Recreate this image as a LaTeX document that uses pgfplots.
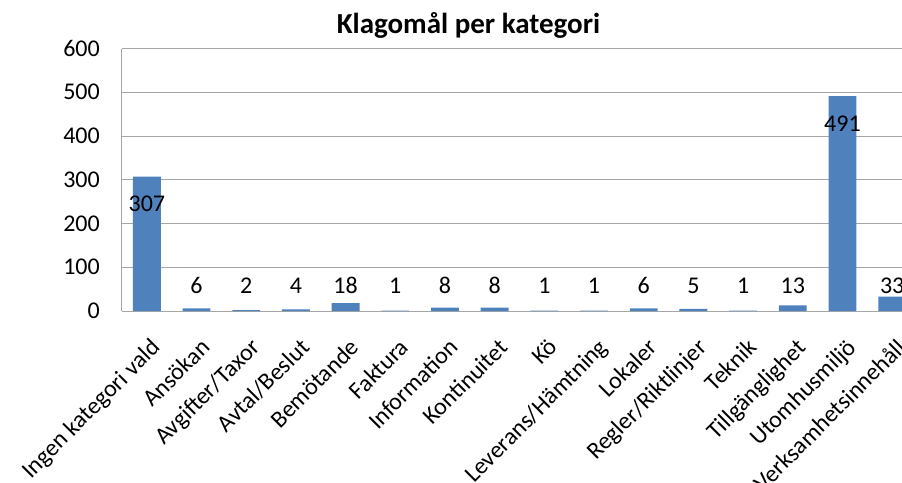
\documentclass[border=0pt]{standalone}
\usepackage{pgfplots}
\pgfplotsset{compat=1.18}
\usepackage{fontspec}
\setmainfont{Carlito}
\definecolor{barblue}{HTML}{4F81BD}
\definecolor{gridgray}{HTML}{A6A6A6}
\begin{document}
\begin{tikzpicture}
\useasboundingbox (-122bp,-172bp) rectangle (780bp,311bp);
\clip (-122bp,-172bp) rectangle (780bp,311bp);
\begin{axis}[
  at={(0,0)}, anchor=south west,
  scale only axis, width=795bp, height=262.5bp,
  xmin=-0.5, xmax=15.5, ymin=0, ymax=600,
  ytick={0,100,...,600},
  xtick={0,...,15},
  xticklabels={Ingen kategori vald, Ansökan, Avgifter/Taxor, Avtal/Beslut, Bemötande, Faktura, Information, Kontinuitet, Kö, Leverans/Hämtning, Lokaler, Regler/Riktlinjer, Teknik, Tillgänglighet, Utomhusmiljö, Verksamhetsinnehåll},
  axis x line*=bottom, axis y line*=left,
  ymajorgrids, grid style={gridgray, line width=1bp},
  axis line style={gridgray, line width=1bp},
  major tick length=0pt,
  tick label style={font=\fontsize{24bp}{28bp}\selectfont, text=black},
  yticklabel style={inner sep=0pt, xshift=-22bp},
  xticklabel style={inner sep=0pt, xshift=3bp, yshift=-26bp, rotate=45, anchor=north east},
  /pgf/number format/assume math mode=true,
  ybar, bar width=0.56,
  nodes near coords,
  visualization depends on={rawy \as \ry},
  every node near coord/.append style={font=\fontsize{24bp}{28bp}\selectfont, text=black, anchor=base, inner sep=0pt,
     yshift={ifthenelse(\ry>100,-35,18-0.4375*\ry)*1.00375}},
]
\addplot[fill=barblue, draw=none] coordinates {
(0,307) (1,6) (2,2) (3,4) (4,18) (5,1) (6,8) (7,8) (8,1) (9,1) (10,6) (11,5) (12,1) (13,13) (14,491) (15,33)
};
\end{axis}
\node[font=\fontsize{29bp}{34bp}\selectfont\bfseries, anchor=base] at (346.5bp,277bp) {Klagomål per kategori};
\end{tikzpicture}
\end{document}
